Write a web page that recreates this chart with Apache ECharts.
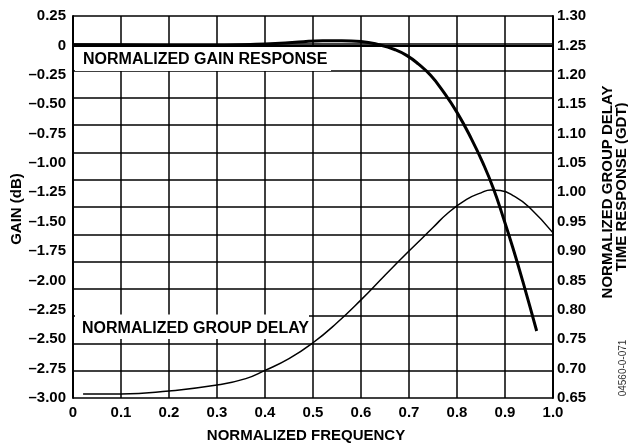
<!DOCTYPE html>
<html>
<head>
<meta charset="utf-8">
<script src="https://cdn.jsdelivr.net/npm/echarts@6/dist/echarts.min.js"></script>
<style>html,body{margin:0;padding:0;background:#fff}#c{width:628px;height:445px}</style>
</head>
<body>
<div id="c"></div>
<script>
// ---- data ----
const gainFreq  = [0, 0.1, 0.2, 0.27, 0.4, 0.47, 0.52, 0.56, 0.6, 0.64, 0.67, 0.695, 0.72, 0.745, 0.77, 0.8, 0.83, 0.855, 0.876, 0.896, 0.917, 0.938, 0.966];
const gainDb    = [0.005, 0.003, 0.0, -0.002, 0.012, 0.028, 0.04, 0.04, 0.033, 0.003, -0.035, -0.085, -0.16, -0.255, -0.385, -0.57, -0.795, -1.01, -1.22, -1.46, -1.73, -2.02, -2.43];
const delayFreq = [0.021, 0.1, 0.2, 0.3, 0.36, 0.4, 0.45, 0.5, 0.55, 0.6, 0.65, 0.7, 0.75, 0.78, 0.82, 0.85, 0.87, 0.89, 0.92, 0.95, 1.0];
const delayNorm = [0.657, 0.657, 0.662, 0.672, 0.683, 0.697, 0.717, 0.744, 0.778, 0.817, 0.859, 0.9, 0.94, 0.964, 0.988, 0.999, 1.004, 1.003, 0.993, 0.975, 0.931];
const freqTickLabels  = ['0','0.1','0.2','0.3','0.4','0.5','0.6','0.7','0.8','0.9','1.0'];
const gainTickLabels  = ['–3.00','–2.75','–2.50','–2.25','–2.00','–1.75','–1.50','–1.25','–1.00','–0.75','–0.50','–0.25','0','0.25'];
const delayTickLabels = ['0.65','0.70','0.75','0.80','0.85','0.90','0.95','1.00','1.05','1.10','1.15','1.20','1.25','1.30'];
const xTitle = 'NORMALIZED FREQUENCY';
const yLeftTitle = 'GAIN (dB)';
const yRightTitle1 = 'NORMALIZED GROUP DELAY';
const yRightTitle2 = 'TIME RESPONSE (GDT)';
const gainLabel = 'NORMALIZED GAIN RESPONSE';
const delayLabel = 'NORMALIZED GROUP DELAY';
const figCode = '04560-0-071';

const FONT = '"Liberation Sans", Arial, sans-serif';
const lbl = {color:'#000', fontFamily:FONT, fontWeight:'bold', fontSize:15};

const chart = echarts.init(document.getElementById('c'));
chart.setOption({
  animation:false,
  backgroundColor:'#fff',
  grid:{left:73, right:75, top:16, bottom:47, containLabel:false},
  xAxis:{
    type:'value', min:0, max:1, interval:0.1,
    axisLine:{show:true, lineStyle:{color:'#000', width:2}},
    axisTick:{show:false},
    splitLine:{show:true, lineStyle:{color:'#000', width:1.5}},
    axisLabel:Object.assign({margin:7, formatter:v=>freqTickLabels[Math.round(v*10)]}, lbl)
  },
  yAxis:[
    {type:'value', min:-3, max:0.25, interval:0.25, position:'left',
     axisLine:{show:true, lineStyle:{color:'#000', width:2}},
     axisTick:{show:false}, splitLine:{show:false},
     axisLabel:Object.assign({margin:7, formatter:v=>gainTickLabels[Math.round((v+3)*4)]}, lbl)},
    {type:'value', min:0.65, max:1.30, interval:0.05, position:'right',
     axisLine:{show:true, lineStyle:{color:'#000', width:2}},
     axisTick:{show:false}, splitLine:{show:false},
     axisLabel:Object.assign({margin:4, formatter:v=>delayTickLabels[Math.round((v-0.65)*20)]}, lbl)},
    {type:'value', min:0, max:14, interval:1, position:'left',
     axisLine:{show:false}, axisTick:{show:false}, axisLabel:{show:false},
     splitLine:{show:true, lineStyle:{color:'#000', width:1.5}}}
  ],
  graphic:[
    {type:'rect', z:1, shape:{x:75, y:47, width:256, height:24}, style:{fill:'#fff'}},
    {type:'text', z:3, x:83, y:59.5, style:{text:gainLabel, fill:'#000', font:'bold 16px '+FONT, verticalAlign:'middle'}},
    {type:'rect', z:1, shape:{x:75, y:314.5, width:234, height:24.5}, style:{fill:'#fff'}},
    {type:'text', z:3, x:82, y:329, style:{text:delayLabel, fill:'#000', font:'bold 16px '+FONT, verticalAlign:'middle'}},
    {type:'text', z:3, x:306, y:436, style:{text:xTitle, fill:'#000', font:'bold 15px '+FONT, align:'center', verticalAlign:'middle'}},
    {type:'text', z:3, x:17, y:209, rotation:Math.PI/2, style:{text:yLeftTitle, fill:'#000', font:'bold 15px '+FONT, align:'center', verticalAlign:'middle'}},
    {type:'text', z:3, x:607.5, y:192, rotation:Math.PI/2, style:{text:yRightTitle1, fill:'#000', font:'bold 15px '+FONT, align:'center', verticalAlign:'middle'}},
    {type:'text', z:3, x:622, y:187, rotation:Math.PI/2, style:{text:yRightTitle2, fill:'#000', font:'bold 15px '+FONT, align:'center', verticalAlign:'middle'}},
    {type:'text', z:3, x:623, y:368, rotation:Math.PI/2, style:{text:figCode, fill:'#333', font:'10px '+FONT, align:'center', verticalAlign:'middle'}}
  ],
  series:[
    {type:'line', yAxisIndex:0, z:5, showSymbol:false, smooth:0.5,
     lineStyle:{color:'#000', width:3},
     data:gainFreq.map((f,i)=>[f, gainDb[i]])},
    {type:'line', yAxisIndex:1, z:5, showSymbol:false, smooth:0.5,
     lineStyle:{color:'#000', width:1.5},
     data:delayFreq.map((f,i)=>[f, delayNorm[i]])}
  ]
});
</script>
</body>
</html>
